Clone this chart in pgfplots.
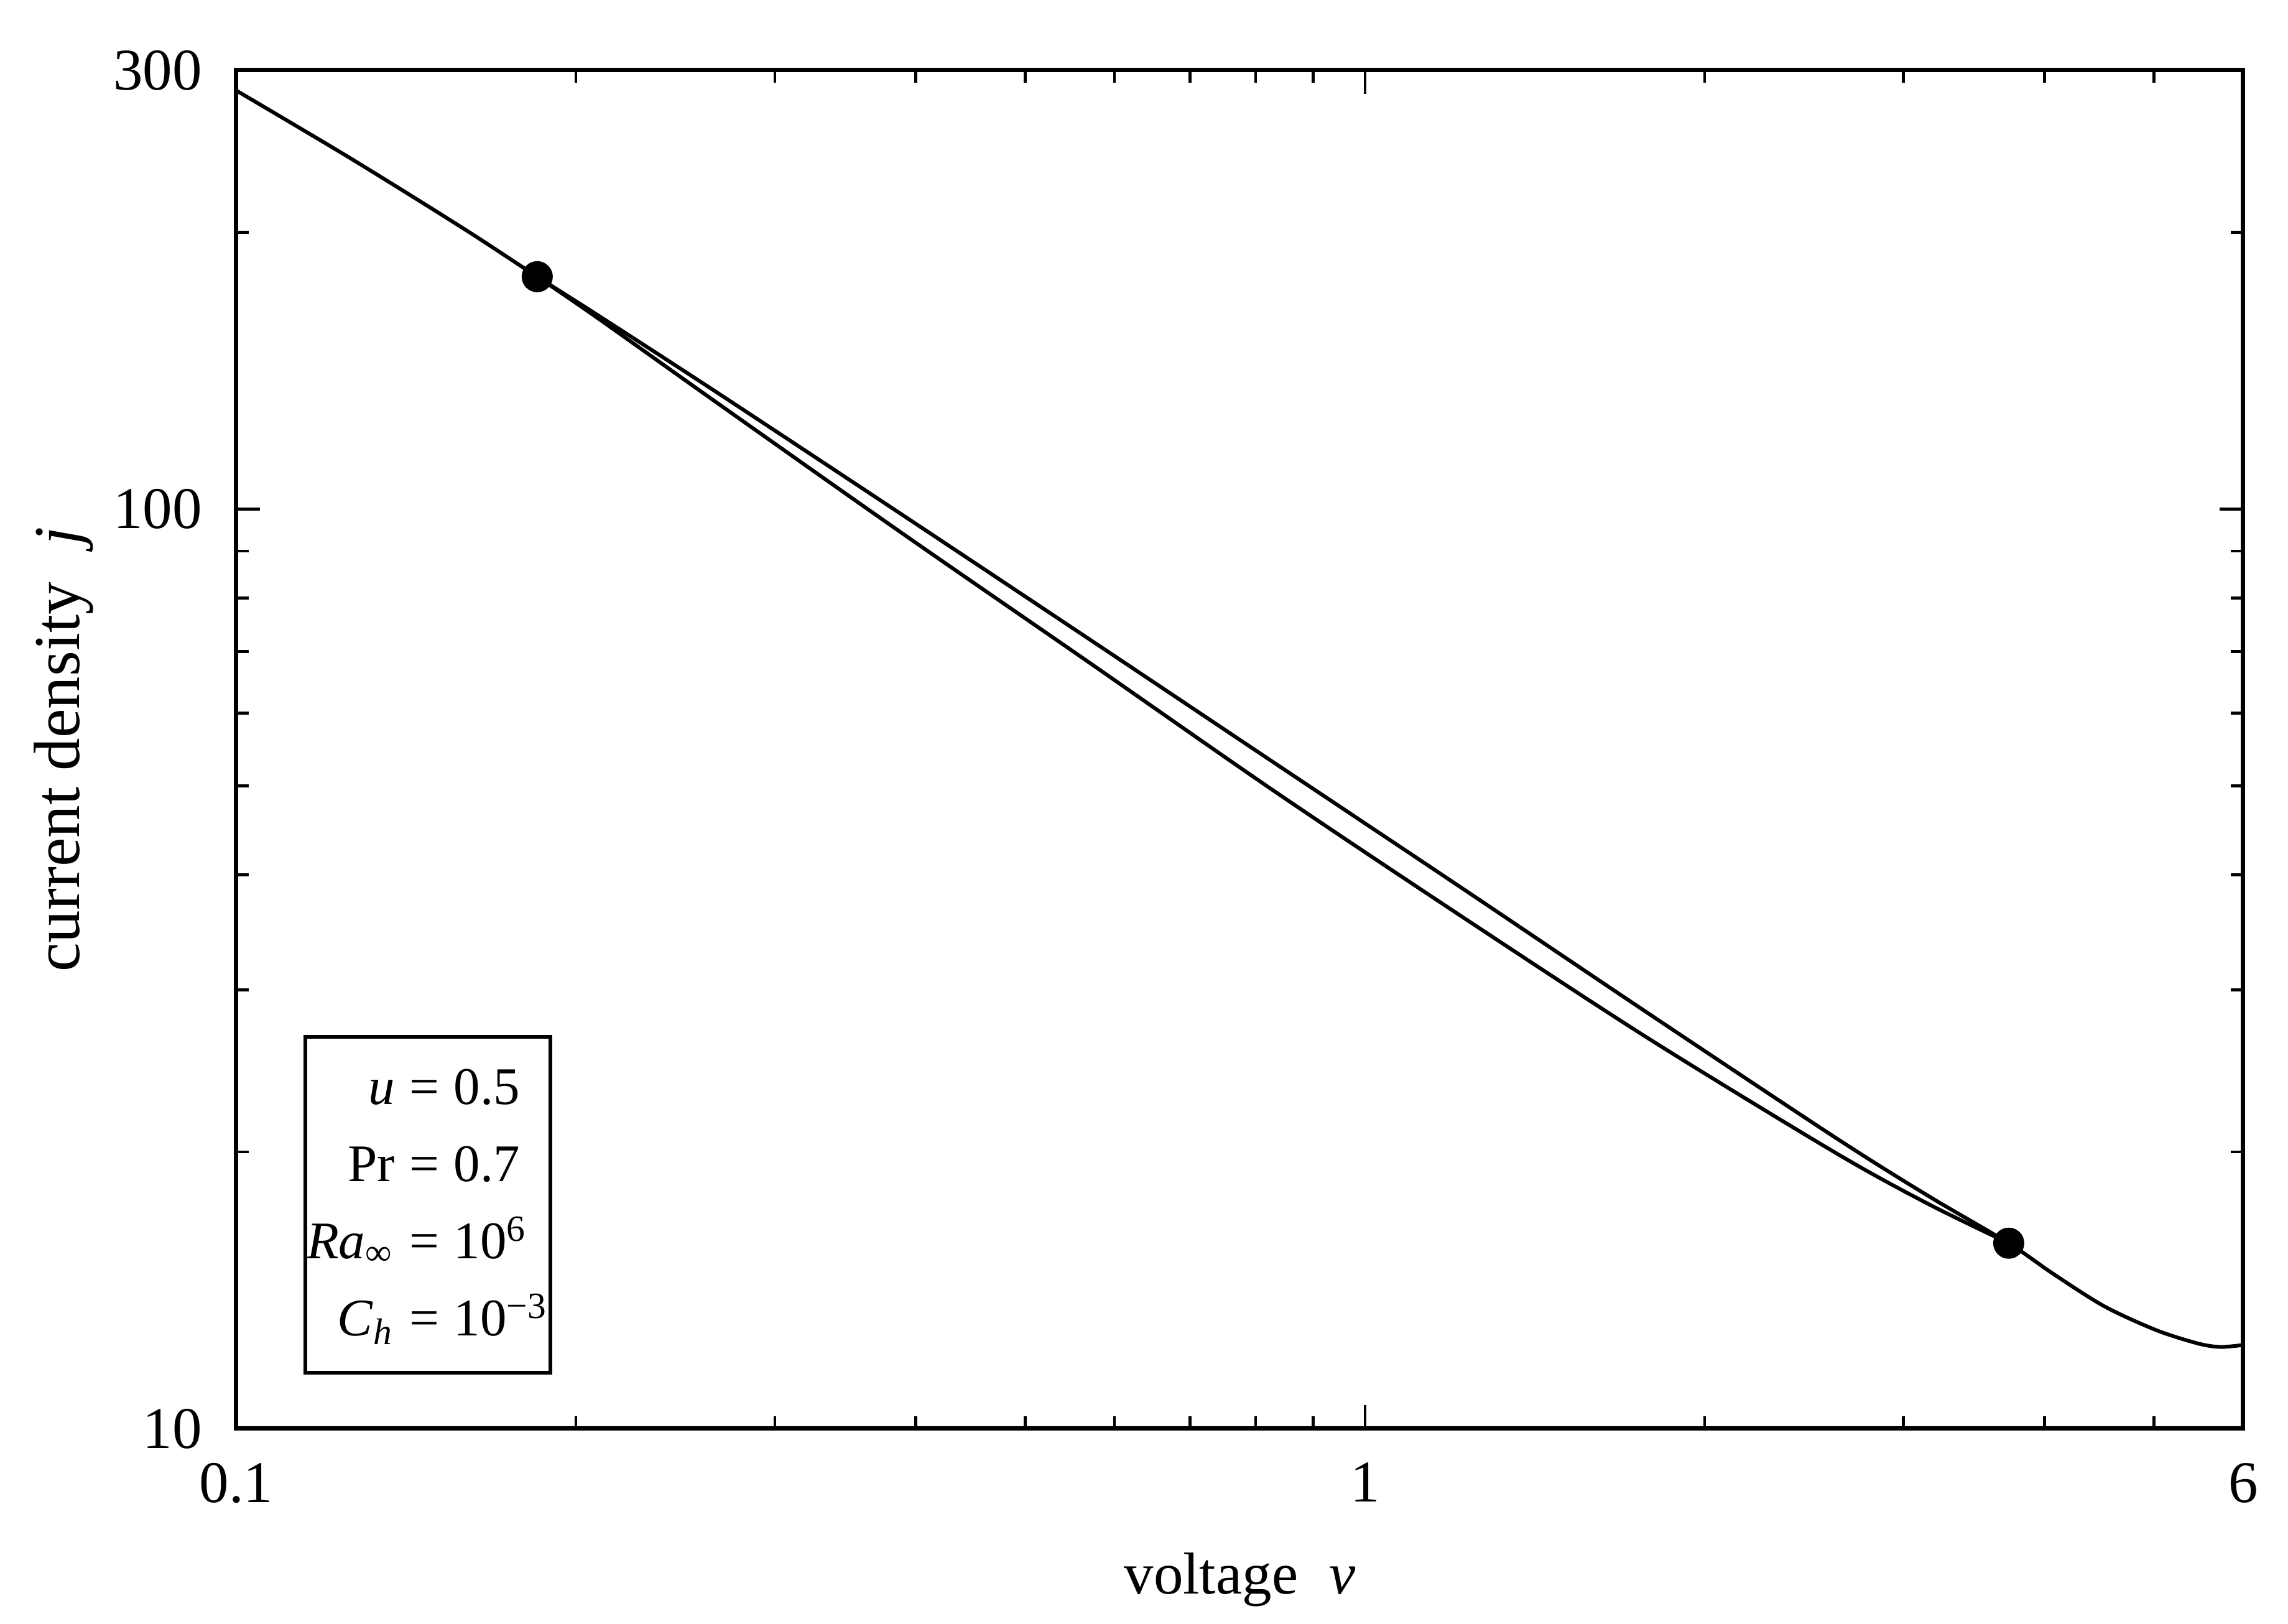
\documentclass[border=0pt]{standalone}
\usepackage{fontspec}
\setmainfont{Liberation Serif}
\usepackage{pgfplots}
\pgfplotsset{compat=1.18}

\begin{document}
\begin{tikzpicture}
\useasboundingbox (-38pt,-31.4pt) rectangle (329.9pt,229.7pt);
\begin{axis}[
  scale only axis,
  width=322.7pt, height=218.4pt,
  xmode=log, ymode=log,
  xmin=0.1, xmax=6, ymin=10, ymax=300,
  axis line style={line width=0.7pt},
  tick align=inside,
  major tick length=3.8pt, minor tick length=2pt,
  every tick/.style={black, line width=0.45pt},
  xtick={0.1,1,6}, xticklabels={0.1,1,6},
  minor xtick={0.2,0.3,0.4,0.5,0.6,0.7,0.8,0.9,2,3,4,5},
  ytick={10,100,300}, yticklabels={10,100,300},
  minor ytick={20,30,40,50,60,70,80,90,200},
  tick label style={font=\fontsize{9.5}{11}\selectfont},
  xticklabel style={yshift=-2pt},
  yticklabel style={xshift=-2pt},
  xlabel={voltage\hspace{5pt}\textit{v}},
  ylabel={current density\hspace{6pt}\textit{j}},
  xlabel style={font=\fontsize{9.5}{11}\selectfont,
                at={(axis description cs:0.5,-0.1218)}, anchor=base},
  ylabel style={font=\fontsize{10.5}{12}\selectfont,
                at={(axis description cs:-0.0781,0.5)}, anchor=base, rotate=0},
  clip=false,
]
% upper branch, with the single parts at both ends
\addplot[black, line width=0.6pt, smooth] coordinates {
  (0.1,285.1) (0.1259,241.1) (0.1585,202.3) (0.1848,178.9)
  (0.2087,162.7) (0.2656,134.3) (0.3886,98.67) (0.5687,72.31)
  (0.832,52.92) (1.218,38.73) (1.781,28.31) (2.607,20.75)
  (3.154,17.92) (3.719,15.91) (4.064,14.76) (4.517,13.59)
  (5.022,12.80) (5.467,12.38) (5.726,12.27) (6.0,12.33)
};
% lower branch between the two points
\addplot[black, line width=0.6pt, smooth] coordinates {
  (0.1848,178.9) (0.2087,161.5) (0.2656,130.9) (0.3886,94.2)
  (0.5687,68.2) (0.832,49.3) (1.218,36.06) (1.781,26.59)
  (2.607,19.98) (3.154,17.56) (3.719,15.91)
};
% junction points
\addplot[only marks, mark=*, mark size=2.3pt, black] coordinates {
  (0.1848,178.9) (3.719,15.91)
};
\node[draw, line width=0.6pt, anchor=south west, inner sep=0pt,
      minimum width=39.4pt, minimum height=54pt,
      font=\fontsize{8.5}{12.4}\selectfont]
  at (rel axis cs:0.0335,0.0398) {%
  \begin{tabular}{@{}r@{\hspace{2.4pt}=\hspace{2.3pt}}l@{}}
    \textit{u} & 0.5\\
    Pr & 0.7\\
    \textit{Ra}\textsubscript{∞} & 10\textsuperscript{6}\\
    \textit{C}\textsubscript{\textit{h}} & 10\textsuperscript{−3}
  \end{tabular}};
\end{axis}
\end{tikzpicture}
\end{document}
